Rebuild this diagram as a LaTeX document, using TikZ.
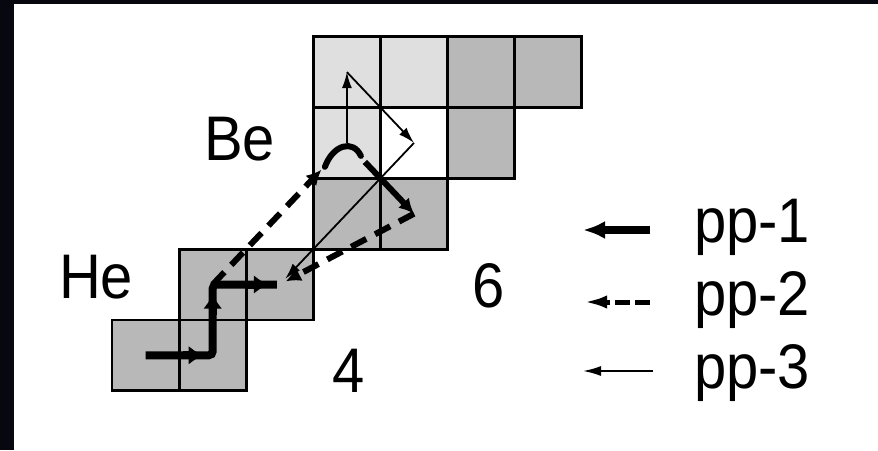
\documentclass[tikz,border=0pt]{standalone}
\usepackage{fontspec}
\setmainfont{Liberation Sans}
\usetikzlibrary{arrows.meta,calc}
\definecolor{lgray}{HTML}{DFDFDF}
\definecolor{dgray}{HTML}{B8B8B8}
\definecolor{spacebg}{HTML}{07070F}
\newcommand{\narrowtxt}[1]{\scalebox{0.92}[1]{#1}}
\begin{document}
\begin{tikzpicture}[x=1pt,y=-1pt,
  cellbox/.style={draw=black,line width=2.8pt},
  lbl/.style={inner sep=0pt,outer sep=0pt,font=\fontsize{63}{70}\selectfont},
  ppone/.style={line width=8pt},
  pponetip/.style={line width=8pt,-{Latex[length=15pt,width=19pt]}},
  pptwo/.style={line width=6pt,dash pattern=on 17pt off 10pt},
  pptwotip/.style={-{Latex[length=15pt,width=15pt]}},
  ppthree/.style={line width=1.8pt,-{Latex[length=16pt,width=10pt]}}]
\fill[spacebg] (0,0) rectangle (878,450);
\fill[white] (14,4) rectangle (878,450);
\useasboundingbox (0,0) rectangle (878,450);
% cells
\foreach \c/\r/\col in {3/0/lgray,4/0/lgray,5/0/dgray,6/0/dgray,
                        3/1/lgray,4/1/white,5/1/dgray,
                        3/2/dgray,4/2/dgray,
                        1/3/dgray,2/3/dgray,
                        0/4/dgray,1/4/dgray}
  \filldraw[cellbox,fill=\col] ({112+67.1*\c},{36.7+70.8*\r}) rectangle ++(67.1,70.8);
% cell centres
\coordinate (H1) at (145.6,355.3);
\coordinate (H2) at (212.7,355.3);
\coordinate (He3) at (212.7,284.5);
\coordinate (He4) at (279.8,284.5);
\coordinate (Li7) at (414.0,213.7);
\coordinate (Be7) at (346.9,142.9);
\coordinate (Be8) at (414.0,142.9);
\coordinate (B8) at (346.9,72.1);
\coordinate (arcA) at ($(Be7)+(-22,24)$);
\coordinate (arcB) at ($(Be7)+(14,13)$);
\coordinate (arcC) at ($(Be7)+(18,19)$);
% pp-3 (thin)
\draw[ppthree] (Be7) -- (B8);
\draw[ppthree] (B8) -- (Be8);
\draw[ppthree] (Be8) -- ($(Be8)!0.96!(He4)$);
% pp-2 (dashed)
\draw[pptwo,pptwotip] (He3) -- ($(He3)!0.81!(Be7)$);
\draw[line width=6pt,line cap=round] (arcA) .. controls ($(Be7)+(-14,2)$) and ($(Be7)+(6,-4)$) .. (arcB);
\draw[line width=6pt,pptwotip] (arcC) -- (Li7);
\draw[pptwo,pptwotip] (Li7) -- ($(Li7)!0.955!(He4)$);
% pp-1 (thick)
\draw[ppone,rounded corners=4pt] (H1) -- (H2) -- (He3) -- ($(He4)+(-3,0)$);
\draw[pponetip] ($(H2)+(-30,0)$) -- ($(H2)+(-9,0)$);
\draw[pponetip] ($(He3)+(0,30)$) -- ($(He3)+(0,9)$);
\draw[pponetip] ($(He4)+(-35,0)$) -- ($(He4)+(-11,0)$);
% labels
\node[lbl,anchor=base west] (be) at (204,160) {\narrowtxt{Be}};
\node[lbl,anchor=base west] (he) at (59,298) {\narrowtxt{He}};
\node[lbl,anchor=base] (six) at (488.5,307) {\narrowtxt{6}};
\node[lbl,anchor=base] (four) at (348.5,392) {\narrowtxt{4}};
% legend
\coordinate (l1s) at (650,230); \coordinate (l1e) at (583,230);
\coordinate (l2s) at (650,302); \coordinate (l2e) at (583,302);
\coordinate (l3s) at (653,371); \coordinate (l3e) at (583,371);
\draw[line width=8pt,-{Latex[length=22pt,width=18pt]}] (l1s) -- (l1e);
\draw[line width=5pt,dash pattern=on 15pt off 5pt,-{Latex[length=24pt,width=13pt]}] (l2s) -- (l2e);
\draw[line width=1.8pt,-{Latex[length=18pt,width=10pt]}] (l3s) -- (l3e);
\node[lbl,anchor=base west] (t1) at (694,242) {\narrowtxt{pp-1}};
\node[lbl,anchor=base west] (t2) at (694,315) {\narrowtxt{pp-2}};
\node[lbl,anchor=base west] (t3) at (694,388) {\narrowtxt{pp-3}};
\end{tikzpicture}
\end{document}
